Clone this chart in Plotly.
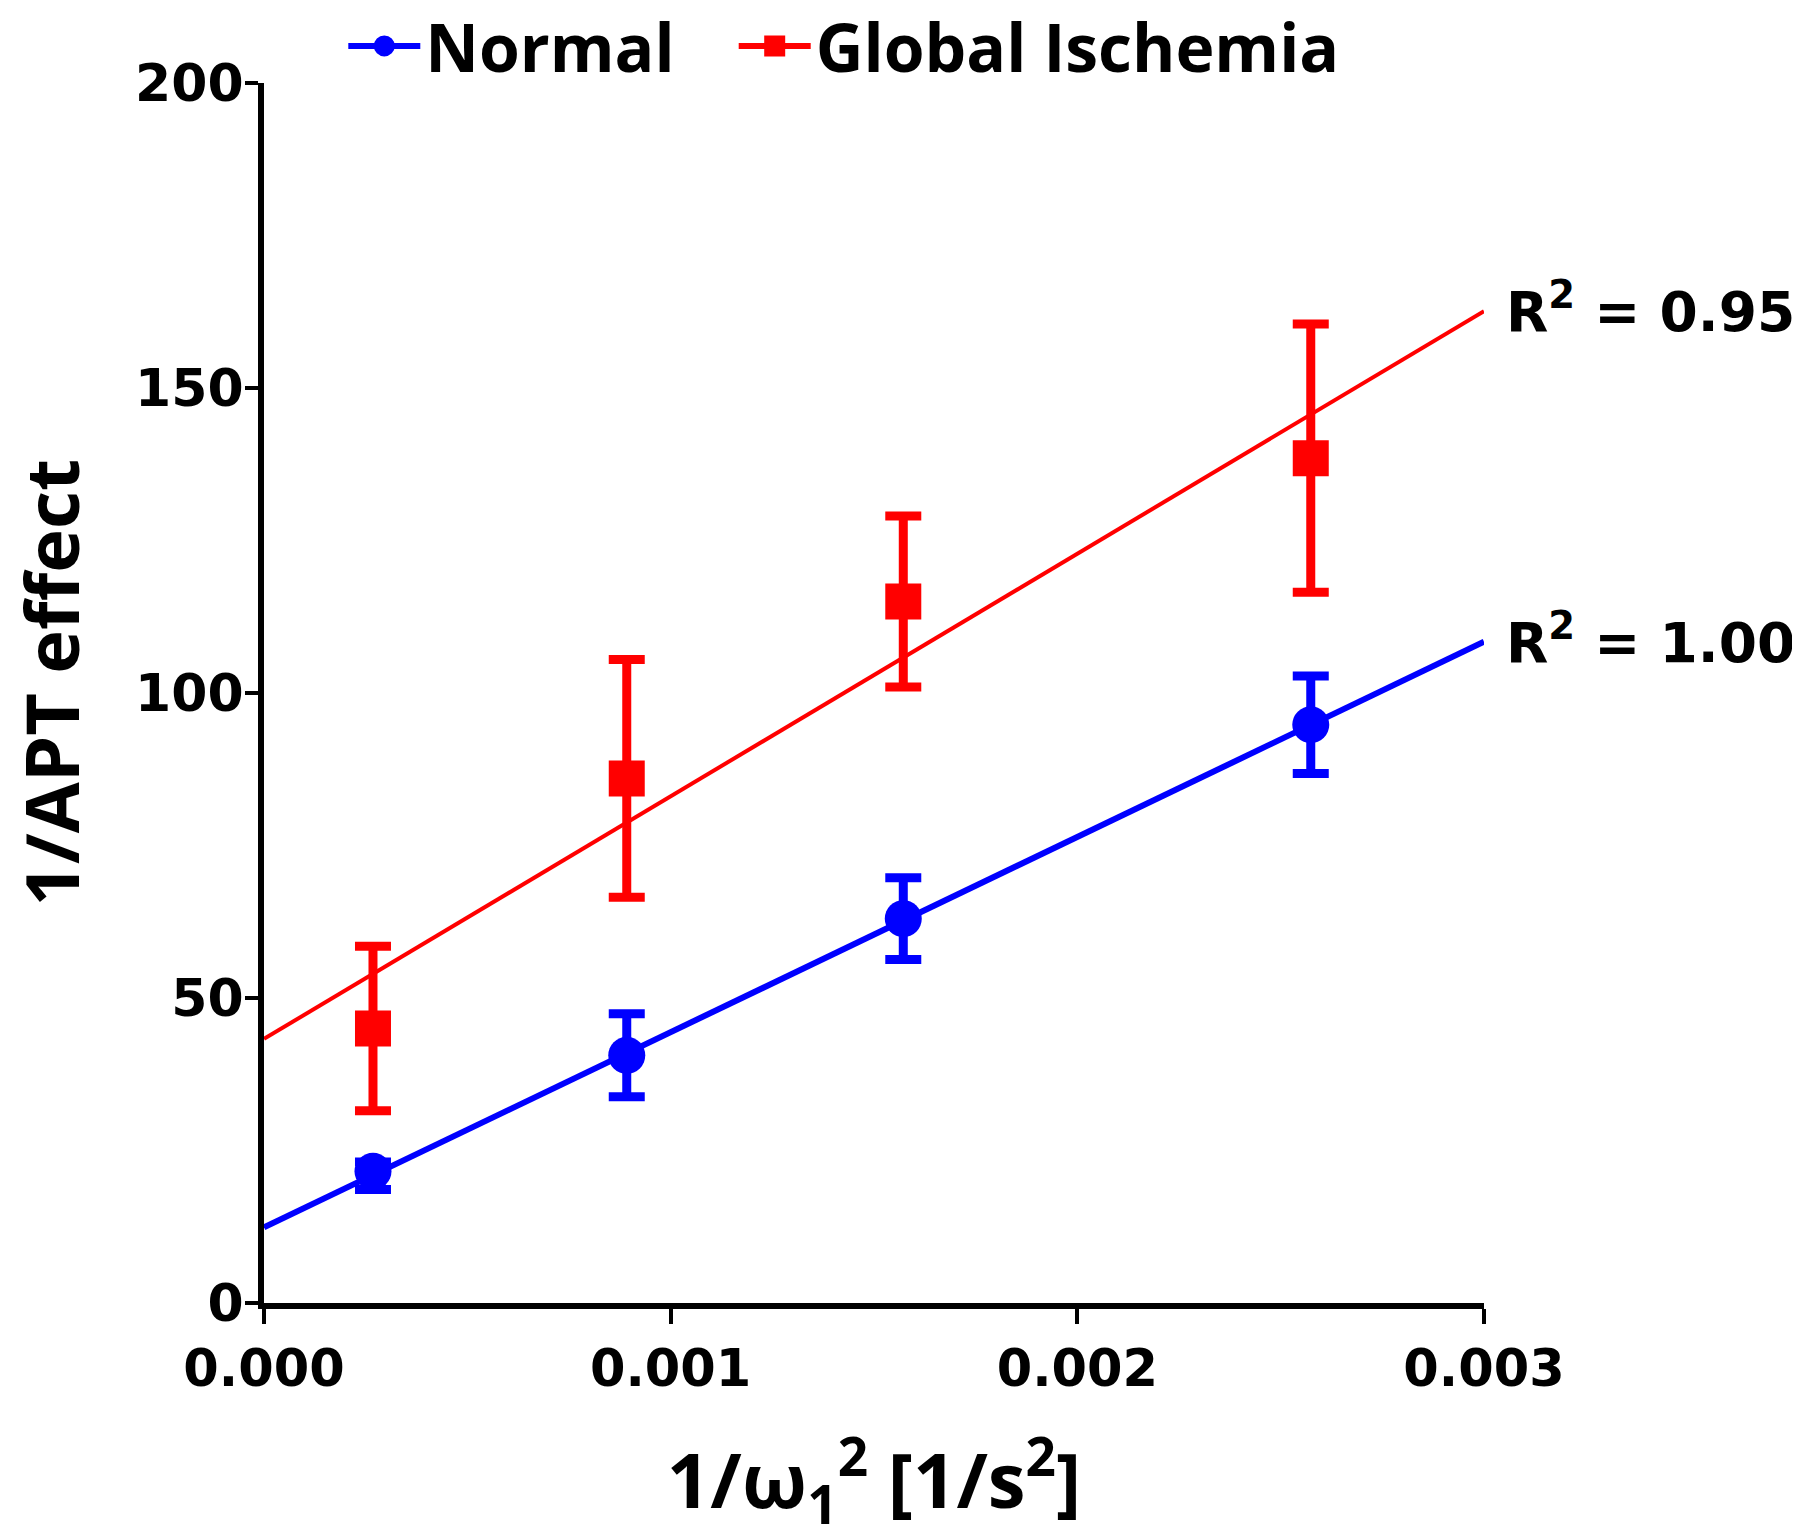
import plotly.graph_objects as go

# ---- data ----
x_vals = [0.000268, 0.000892, 0.001572, 0.002574]

normal_y = [21.6, 40.6, 63.0, 94.8]
normal_err_plus = [1.5, 6.8, 6.7, 8.0]
normal_err_minus = [3.0, 6.8, 6.7, 8.0]

ischemia_y = [45.0, 86.0, 115.0, 138.5]
ischemia_err = [13.5, 19.5, 14.0, 22.0]

# linear-fit lines (end points)
fit_x = [0.0, 0.003]
normal_fit = [12.4, 108.4]
ischemia_fit = [43.3, 162.6]

r2_labels = ["R<sup>2</sup> = 1.00", "R<sup>2</sup> = 0.95"]

x_ticks = [0.000, 0.001, 0.002, 0.003]
x_tick_text = ["0.000", "0.001", "0.002", "0.003"]
y_ticks = [0, 50, 100, 150, 200]

x_title = "1/ω<sub>1</sub><sup>2</sup> [1/s<sup>2</sup>]"
y_title = "1/APT effect"

BLUE = "#0000ff"
RED = "#ff0000"
TICKFONT = "DejaVu Sans"
TEXTFONT = "Open Sans"

fig = go.Figure()

# fit lines
fig.add_trace(go.Scatter(x=fit_x, y=ischemia_fit, mode="lines",
                         line=dict(color=RED, width=4), showlegend=False,
                         hoverinfo="skip"))
fig.add_trace(go.Scatter(x=fit_x, y=normal_fit, mode="lines",
                         line=dict(color=BLUE, width=6), showlegend=False,
                         hoverinfo="skip"))

# data with error bars
fig.add_trace(go.Scatter(
    x=x_vals, y=ischemia_y, mode="markers", showlegend=False,
    marker=dict(symbol="square", size=36, color=RED),
    error_y=dict(type="data", array=ischemia_err, visible=True,
                 color=RED, thickness=9, width=18)))
fig.add_trace(go.Scatter(
    x=x_vals, y=normal_y, mode="markers", showlegend=False,
    marker=dict(symbol="circle", size=37, color=BLUE),
    error_y=dict(type="data", array=normal_err_plus, arrayminus=normal_err_minus,
                 symmetric=False, visible=True,
                 color=BLUE, thickness=9, width=18)))

# legend entries (two legends so each entry can sit where the reference has it)
fig.add_trace(go.Scatter(x=[None], y=[None], mode="lines+markers", name="Normal",
                         legend="legend",
                         line=dict(color=BLUE, width=6),
                         marker=dict(symbol="circle", size=16, color=BLUE,
                                     line=dict(color=BLUE, width=5))))
fig.add_trace(go.Scatter(x=[None], y=[None], mode="lines+markers", name="Global Ischemia",
                         legend="legend2",
                         line=dict(color=RED, width=6),
                         marker=dict(symbol="square", size=16, color=RED,
                                     line=dict(color=RED, width=5))))

# R^2 labels at the fit line ends
for yv, lab in [(normal_fit[1], r2_labels[0]), (ischemia_fit[1], r2_labels[1])]:
    fig.add_annotation(x=fit_x[1], y=yv, text=lab, showarrow=False,
                       xanchor="left", yanchor="middle", xshift=20, yshift=3,
                       font=dict(family=TICKFONT, size=55, color="black", weight="bold"))

# y-axis title (as a rotated annotation so it can sit close to the page edge)
fig.add_annotation(x=-0.1754, y=0.508, xref="paper", yref="paper", text=y_title,
                   textangle=-90, showarrow=False, xanchor="center", yanchor="middle",
                   font=dict(family=TEXTFONT, size=74, color="black", weight="bold"))

legend_font = dict(family=TEXTFONT, size=66, color="black", weight="bold")
common_legend = dict(orientation="h", xanchor="left", y=1.0303, yanchor="middle",
                     font=legend_font, bgcolor="rgba(0,0,0,0)", itemwidth=72)

fig.update_layout(
    width=1800, height=1539,
    margin=dict(l=256, r=324, t=75, b=244, autoexpand=False),
    plot_bgcolor="white", paper_bgcolor="white",
    font=dict(family=TEXTFONT, color="black", weight="bold"),
    legend=dict(common_legend, x=0.065),
    legend2=dict(common_legend, x=0.385),
    xaxis=dict(range=[0, 0.003], tickvals=x_ticks, ticktext=x_tick_text,
               showgrid=False, zeroline=False, showline=True, linewidth=6,
               linecolor="black", ticks="outside", ticklen=15, tickwidth=4,
               tickcolor="black", ticklabelstandoff=1,
               tickfont=dict(family=TICKFONT, size=51, color="black", weight="bold"),
               title=dict(text=x_title,
                          font=dict(family=TEXTFONT, size=76, color="black", weight="bold"),
                          standoff=60)),
    yaxis=dict(range=[0, 200], tickvals=y_ticks,
               showgrid=False, zeroline=False, showline=True, linewidth=6,
               linecolor="black", ticks="outside", ticklen=13, tickwidth=4,
               tickcolor="black", ticklabelstandoff=-9,
               tickfont=dict(family=TICKFONT, size=52, color="black", weight="bold")),
)

fig.write_html("out.html")
